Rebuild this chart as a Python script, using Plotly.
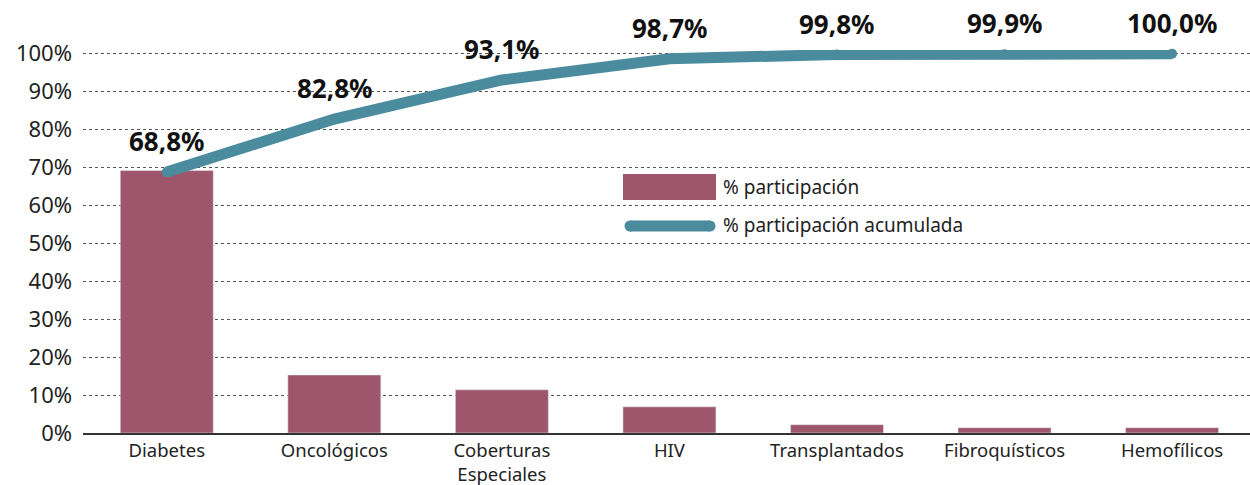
import plotly.graph_objects as go

categories = ["Diabetes", "Oncológicos", "Coberturas<br>Especiales", "HIV",
              "Transplantados", "Fibroquísticos", "Hemofílicos"]
participacion = [69.2, 15.3, 11.4, 6.9, 2.2, 1.4, 1.4]
acumulada = [68.8, 82.8, 93.1, 98.7, 99.8, 99.9, 100.0]
acum_labels = ["68,8%", "82,8%", "93,1%", "98,7%", "99,8%", "99,9%", "100,0%"]
y_ticks = [0, 10, 20, 30, 40, 50, 60, 70, 80, 90, 100]
y_ticktext = [f"{v}%" for v in y_ticks]

BAR = "#9E566C"
LINE = "#4A8B9E"
FONT = "Noto Sans"

fig = go.Figure()
fig.add_trace(go.Bar(
    x=categories, y=participacion, name="% participación",
    marker_color=BAR, width=0.555, showlegend=False,
))
fig.add_trace(go.Scatter(
    x=categories, y=acumulada, name="% participación acumulada",
    mode="lines+markers", line=dict(color=LINE, width=11),
    marker=dict(color=LINE, size=10), cliponaxis=False, showlegend=False,
))

for c, v, t in zip(categories, acumulada, acum_labels):
    fig.add_annotation(x=c, y=v, text=t, showarrow=False, yshift=31,
                       yanchor="middle",
                       font=dict(family=FONT, size=26, color="#111111", weight="bold"))

# manual legend (paper coordinates)
W, H = 1250, 485
ml, mr, mt, mb = 83, 0, 50, 52
pw, ph = W - ml - mr, H - mt - mb

def px(x):
    return (x - ml) / pw

def py(y):
    return (H - mb - y) / ph

fig.add_shape(type="rect", xref="paper", yref="paper",
              x0=px(623), x1=px(716), y0=py(200), y1=py(174),
              fillcolor=BAR, line_width=0)
fig.add_shape(type="line", xref="paper", yref="paper",
              x0=px(630), x1=px(710), y0=py(226), y1=py(226),
              line=dict(color=LINE, width=11))
for cx in (630, 710):
    fig.add_shape(type="circle", xref="paper", yref="paper",
                  x0=px(cx - 5.5), x1=px(cx + 5.5), y0=py(226 + 5.5), y1=py(226 - 5.5),
                  fillcolor=LINE, line_width=0)
fig.add_annotation(xref="paper", yref="paper", x=px(721), y=py(187),
                   xanchor="left", yanchor="middle", showarrow=False,
                   text="% participación", font=dict(family=FONT, size=19, color="#222222"))
fig.add_annotation(xref="paper", yref="paper", x=px(721), y=py(225),
                   xanchor="left", yanchor="middle", showarrow=False,
                   text="% participación acumulada", font=dict(family=FONT, size=19, color="#222222"))

fig.update_layout(
    width=W, height=H,
    margin=dict(l=ml, r=mr, t=mt, b=mb),
    plot_bgcolor="white", paper_bgcolor="white",
    font=dict(family=FONT, size=19, color="#222222"),
    xaxis=dict(showline=True, linecolor="#333333", linewidth=1.5,
               showgrid=False, ticks="", range=[-0.5, 6.465],
               tickfont=dict(size=18.5), ticklabelstandoff=0, automargin=False),
    yaxis=dict(range=[0, 101], tickvals=y_ticks, ticktext=y_ticktext,
               showgrid=True, gridcolor="#555555", griddash="dot", gridwidth=1,
               zeroline=False, ticks="", ticklabelstandoff=10, automargin=False,
               tickfont=dict(size=22)),
)

fig.write_html("out.html", config={"displayModeBar": False},
               post_script="document.body.style.margin='0';document.body.style.padding='0';")
